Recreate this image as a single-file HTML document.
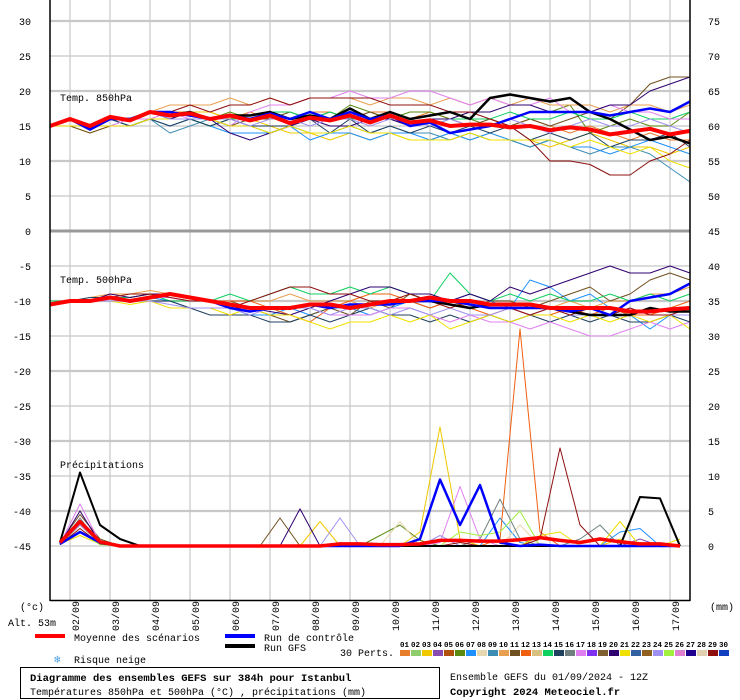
<!DOCTYPE html>
<html><head><meta charset="utf-8"><style>
html,body{margin:0;padding:0;background:#fff;}
svg{display:block;font-family:"Liberation Mono","DejaVu Sans Mono",monospace;}
</style></head><body>
<svg id="chart" width="740" height="700" viewBox="0 0 740 700" xmlns="http://www.w3.org/2000/svg">
<g id="grid"></g>
<g id="series"></g>
<g id="axes"></g>
<g id="legend"></g>
</svg>
<script>
const dates=["02/09","03/09","04/09","05/09","06/09","07/09","08/09","09/09","10/09","11/09","12/09","13/09","14/09","15/09","16/09","17/09"];
const leftTicks=[30,25,20,15,10,5,0,-5,-10,-15,-20,-25,-30,-35,-40,-45];
const rightTicks=[75,70,65,60,55,50,45,40,35,30,25,20,15,10,5,0];
const memberColors=["#e87d2c","#8fcc6b","#f0c800","#8a4bb0","#b0500a","#5a8a10","#1e90ff","#e8d8b0","#3c8cb4","#e8a050","#705020","#f06010","#d8c080","#10d060","#204060","#708080","#e080f0","#8030f0","#806030","#300070","#f0e000","#3060a0","#906020","#a090f0","#a0f040","#e080d0","#200090","#e0d0b0","#901010","#1040c0"];
// 850 hPa (12h steps, 33 values)
const mean850=[15,16,15,16.3,15.8,17,16.5,16.8,16,16.5,15.8,16.5,15.4,16.2,15.8,16.5,15.5,16.5,15.5,15.8,15,15.2,15.2,14.8,15,14.4,14.8,14.5,13.8,14.2,14.6,13.8,14.3];
const ctrl850=[15,16,14.5,16,16,17,17,16.5,16,16.5,16,16.8,16,17,16,17,16,16.5,15,15.5,14,14.5,15,16,17,17,17,17,16.5,17,17.5,17,18.5];
const gfs850=[15,16,14.5,16,16,17,16.5,17,16,16.5,16.5,17,16,16.5,16,17.5,16,17,16,16.5,17,16,19,19.5,19,18.5,19,17,16,14.5,13,13.5,12.5];
const m850_29=[15,16,15,16,16,17,17,18,17,18,18,19,18,19,19,19,19,18,18,18,17,17,16,15,13,10,10,9.5,8,8,10,11,13];
const m850_20=[15,16,15,16,16,17,16,17,16,14,13,14,15,16,15,15,16,16,15,16,16,17,17,18,18,17,17,17,18,18,20,21,22];
const m850_11=[15,15,14,15,15,16,16,16,16,15,16,16,17,16,17,16,17,16,15,16,16,15,16,15,16,15,16,17,16,18,21,22,22];
const m850_09=[15,16,15,16,15,16,14,15,16,15,15,14,15,14,14,15,14,15,14,14,13,14,13,13,12,13,12,11,12,12,11,9,7];
const m850_21=[15,15,15,15,15,16,16,16,16,15,15,14,15,14,14,15,14,14,13,13,13,14,13,13,13,13,12,13,12,11,12,10,9];
const m850_10=[15,16,15,16,16,17,18,18,18,19,18,19,18,19,19,19,18,19,19,18,19,18,19,18,19,18,18,18,17,18,18,17,18];
const m850_17=[15,16,15,15,16,16,17,16,16,15,17,18,18,19,19,20,19,19,20,20,19,18,19,18,18,19,17,17,18,17,17,16,16];
const m850_07=[15,16,15,16,15,16,15,16,15,14,14,14,15,13,14,14,13,14,14,13,14,13,14,13,12,13,12,12,11,12,13,12,11];
const m850_06=[15,16,15,16,16,17,16,17,16,17,16,17,16,17,16,18,17,16,17,17,16,16,15,16,17,17,18,14,15,16,15,15,17];
const m850_15=[15,16,15,16,15,16,15,16,15,16,15,15,15,16,14,16,14,15,14,15,14,15,14,15,13,14,13,14,12,13,13,14,12];
const m850_24=[15,16,15,16,16,17,16,16,16,16,15,16,16,15,16,16,15,16,16,15,16,15,15,16,15,14,15,16,15,15,16,15,14];
const m850_03=[15,15,14,15,15,16,16,17,17,16,16,15,14,14,13,14,13,14,13,13,14,13,14,13,13,12,13,14,13,12,12,11,12];
const m850_01=[15,16,15,16,16,17,17,17,17,16,17,16,16,17,17,16,17,17,16,17,16,16,16,15,16,15,14,15,14,13,14,13,13];
const m850_14=[15,16,15,16,16,17,16,16,15,16,16,17,17,16,17,16,16,17,16,15,16,16,16,17,16,16,17,16,16,17,16,16,17];
// 500 hPa
const mean500=[-10.5,-10,-10,-9.5,-10,-9.5,-9,-9.5,-10,-10.5,-11,-11,-11,-10.5,-10.5,-11,-10.5,-10,-10,-9.5,-10,-10,-10.5,-10.5,-10.5,-11,-11,-11,-11,-11.5,-11.5,-11.2,-11];
const ctrl500=[-10.5,-10,-10,-9.5,-10,-9.5,-9,-9.5,-10,-11,-11.5,-11,-11,-10.5,-11,-10.5,-10.5,-10.5,-10,-10,-10,-10.5,-11,-11,-11,-11,-11.5,-11,-12,-10,-9.5,-9,-7.5];
const gfs500=[-10.5,-10,-10,-9.5,-10,-9.5,-9,-9.5,-10,-10.5,-11,-11,-11,-10.5,-10.5,-11,-10.5,-10,-10,-10,-10.5,-11,-10.5,-10.5,-10.5,-11,-11.5,-12,-12,-12,-11,-11.5,-11.5];
const m500_20=[-10.5,-10,-10,-9,-9.5,-9,-9,-9.5,-10,-11,-11,-11.5,-12,-11,-10,-9,-8,-8,-9,-9,-10,-9,-10,-8,-9,-8,-7,-6,-5,-6,-6,-5,-6];
const m500_15=[-10.5,-10,-9.5,-9.5,-10,-10,-10,-11,-12,-12,-12,-13,-13,-12,-13,-12,-11,-12,-12,-13,-12,-13,-12,-13,-12,-13,-12,-13,-12,-13,-13,-12,-13];
const m500_21=[-10.5,-10,-10,-10,-10.5,-10,-11,-11,-11,-12,-11,-12,-12,-13,-14,-13,-13,-12,-13,-12,-14,-13,-12,-13,-12,-12,-13,-12,-13,-12,-13,-12,-14];
const m500_14=[-10,-10,-10,-9.5,-9.5,-9,-10,-10,-10,-9,-10,-9,-8,-9,-9,-8,-9,-8,-9,-10,-6,-9,-10,-9,-10,-9,-10,-10,-9,-10,-9,-10,-9];
const m500_07=[-10.5,-10,-10,-10,-10,-9.5,-10,-11,-11,-11,-12,-12,-11,-12,-11,-11,-12,-11,-10,-11,-10,-9,-10,-11,-7,-8,-10,-9,-11,-12,-14,-12,-12];
const m500_17=[-10.5,-10,-10,-9.5,-10,-9.5,-9.5,-10,-10,-11,-11,-11,-11,-11,-12,-12,-12,-11,-11,-12,-13,-12,-13,-13,-14,-13,-14,-15,-15,-14,-13,-14,-13];
const m500_12=[-10.5,-10,-10,-9.5,-9.5,-9,-9.5,-10,-10,-10,-10,-11,-12,-13,-11,-10,-9,-9,-10,-11,-10,-11,-12,-11,-12,-12,-11,-12,-11,-12,-12,-11,-10];
const m500_11=[-10.5,-10,-10,-9.5,-9.5,-9,-9,-9.5,-10,-10,-11,-12,-13,-12,-11,-12,-10,-11,-9,-10,-10,-11,-10,-10,-11,-10,-9,-8,-10,-9,-7,-6,-7];
const m500_29=[-10.5,-10,-10,-9.5,-9,-9,-9.5,-10,-10,-11,-10,-9,-8,-8,-9,-9,-10,-10,-9,-10,-11,-10,-11,-11,-12,-11,-12,-11,-12,-11,-12,-12,-11];
const m500_10=[-10.5,-10,-9.5,-9,-9,-8.5,-9,-9.5,-10,-10,-10,-10,-9,-10,-10,-10,-11,-10,-10,-11,-10,-11,-10,-10,-11,-11,-10,-11,-10,-10,-9,-9,-8];
const m500_24=[-10.5,-10,-10,-10,-10,-10,-10.5,-11,-11,-11,-12,-11,-11,-11,-12,-11,-11,-12,-11,-12,-11,-12,-12,-11,-12,-11,-12,-12,-12,-11,-12,-12,-12];
// Precipitation (mm), 12h steps starting 6h
const meanPr=[0.5,3.5,0.6,0,0,0,0,0,0,0,0,0,0,0,0.3,0.3,0.2,0.2,0.3,0.8,0.8,0.7,0.7,0.9,1.2,0.8,0.5,1,0.6,0.3,0.3,0];
const ctrlPr=[0.3,2,0.5,0,0,0,0,0,0,0,0,0,0,0,0,0,0,0,1,9.5,3,8.7,0.5,0,0.2,0,0,0,0,0,0,0];
const gfsPr=[0.5,10.5,3,1,0,0,0,0,0,0,0,0,0,0,0,0,0,0,0,0,0,0,0,0,0,0,0,0,0,7,6.8,0];
const pr03=[0.5,2,0.5,0,0,0,0,0,0,0,0,0,0,3.5,0,0,0,0,2,17,1,0,0,0,0,0,0,0,1,0,0,0];
const pr12=[0.3,3,0.5,0,0,0,0,0,0,0,0,0,0,0,0,0,0,0,0,0,0,0,1,31,2,0,0,0,0,0,0,0];
const pr29=[0.2,2.5,0.3,0,0,0,0,0,0,0,0,0,0,0,0,0,0,0,0,0,0.5,0,0,0,1,14,3,0,0,0,0,0];
const pr17=[0.3,6,0.5,0,0,0,0,0,0,0,0,0,0,0,0,0,0,0,0,0.5,8.5,1,0,0,0,0,0,0,0,0,0,0];
const pr16=[0.2,4,0.3,0,0,0,0,0,0,0,0,0,0,0,0,0,0,0,0,0,0,1,6.7,1,0,0,1,3,0,0,0,0];
const pr11=[0.5,4.5,1,0,0,0,0,0,0,0,0,4,0,0,0,0,0,0,0,0,0,0,0,0,0,0,0,0,0,0,0,0];
const pr20=[0.3,5,0.4,0,0,0,0,0,0,0,0,0,5.3,0,0,0,0,0,0,0,0,0,0,0,0,0,0,0,0,0,0,0];
const pr24=[0.4,3,0.5,0,0,0,0,0,0,0,0,0,0,0,4,0,0,0,0,1.5,0,0,0,0,0,0,0,0,0,0,0,0];
const pr08=[0.3,2,0.5,0,0,0,0,0,0,0,0,0,0,0,0,0,0,3.5,0,0,0,0,0,3,0,0,0,0,0,0,0,0];
const pr06=[0.2,3,0.4,0,0,0,0,0,0,0,0,0,0,0,0,0,1.5,3,0.8,0,0,0,0,0,0,0,0,0,0,0,0,0];
const pr25=[0.2,2,0.2,0,0,0,0,0,0,0,0,0,0,0,0,0,0,0,0,0,2,1.5,2,5,0,0,0,0,0,0,0,0];
const pr07=[0.6,2,0.3,0,0,0,0,0,0,0,0,0,0,0,0,0,0,0,0,0,0,0,4,0.5,0,0,0,0,2,2.5,0,0];
const pr21=[0.3,1.5,0.3,0,0,0,0,0,0,0,0,0,0,0,0,0,0,0,0,0,0,0,0,0,1.5,2,0,0,3.5,0,0,1];
const pr04=[0.3,2,0.3,0,0,0,0,0,0,0,0,0,0,0,0,0,0,0,0,0,0,0,0,0,0,0,0,0,0,1,0,0];

const NS="http://www.w3.org/2000/svg";
const X0=50,X1=690;
const xT=i=>X0+i*20;
const xP=i=>60+i*20;
const yT=t=>231-7*t;
const yP=p=>546-7*p;
function mk(tag,attrs,parent){const e=document.createElementNS(NS,tag);for(const k in attrs)e.setAttribute(k,attrs[k]);parent.appendChild(e);return e;}
const grid=document.getElementById('grid'),ser=document.getElementById('series'),axes=document.getElementById('axes'),leg=document.getElementById('legend');

for(let k=0;k<16;k++){const x=70+40*k;const l=mk('line',{x1:x,y1:0,x2:x,y2:600,stroke:'#c8c8c8','stroke-width':1.2},grid);

}
leftTicks.forEach(t=>{const y=yT(t);const thick=(t%10===0);const l=mk('line',{x1:X0,y1:y,x2:X1,y2:y,stroke:t===0?'#999':'#c8c8c8','stroke-width':t===0?3:(thick?2.2:1.2)},grid);

});

function line(arr,xf,yf,color,w,name){const pts=arr.map((v,i)=>xf(i).toFixed(1)+','+yf(v).toFixed(1)).join(' ');
const p=mk('polyline',{points:pts,fill:'none',stroke:color,'stroke-width':w,'stroke-linejoin':'round'},ser);

}

const mem850=[[m850_01,0],[m850_03,2],[m850_06,5],[m850_07,6],[m850_09,8],[m850_10,9],[m850_11,10],[m850_14,13],[m850_15,14],[m850_17,16],[m850_20,19],[m850_21,20],[m850_24,23],[m850_29,28]];
const mem500=[[m500_07,6],[m500_10,9],[m500_11,10],[m500_12,11],[m500_14,13],[m500_15,14],[m500_17,16],[m500_20,19],[m500_21,20],[m500_24,23],[m500_29,28]];
const memPr=[[pr03,2],[pr04,3],[pr06,5],[pr07,6],[pr08,7],[pr11,10],[pr12,11],[pr16,15],[pr17,16],[pr20,19],[pr21,20],[pr24,23],[pr25,24],[pr29,28]];
mem850.forEach(([a,c])=>line(a,xT,yT,memberColors[c],1,'t850-member-'+(c+1)));
mem500.forEach(([a,c])=>line(a,xT,yT,memberColors[c],1,'t500-member-'+(c+1)));
memPr.forEach(([a,c])=>line(a,xP,yP,memberColors[c],1,'precip-member-'+(c+1)));
line(gfs850,xT,yT,'#000',2.5,'t850-gfs-run');
line(ctrl850,xT,yT,'#0000ff',2.5,'t850-control-run');
line(mean850,xT,yT,'#ff0000',4,'t850-mean');
line(gfs500,xT,yT,'#000',2.5,'t500-gfs-run');
line(ctrl500,xT,yT,'#0000ff',2.5,'t500-control-run');
line(mean500,xT,yT,'#ff0000',4,'t500-mean');
line(gfsPr,xP,yP,'#000',2,'precip-gfs-run');
line(ctrlPr,xP,yP,'#0000ff',2.5,'precip-control-run');
line(meanPr,xP,yP,'#ff0000',3.5,'precip-mean');

[['left-axis',X0],['right-axis',X1]].forEach(([n,x])=>{const l=mk('line',{x1:x,y1:0,x2:x,y2:601,stroke:'#000','stroke-width':1.5},axes);

});
const bl=mk('line',{x1:X0,y1:600.5,x2:X1,y2:600.5,stroke:'#000','stroke-width':1.5},axes);


leftTicks.forEach(t=>{const e=mk('text',{x:31,y:yT(t)+4,'text-anchor':'end','font-size':10},axes);e.textContent=t;

});
rightTicks.forEach(t=>{const e=mk('text',{x:708,y:yP(t)+4,'font-size':10},axes);e.textContent=t;

});
dates.forEach((d,k)=>{const x=79+40*k;const e=mk('text',{x:0,y:0,'font-size':10,transform:`translate(${x},631) rotate(-90)`},axes);e.textContent=d;

});
function txt(s,x,y,size,name,extra){const e=mk('text',Object.assign({x:x,y:y,'font-size':size},extra||{}),leg);e.textContent=s;

return e;}
txt('Temp. 850hPa',60,101,10,'panel-label-850');
txt('Temp. 500hPa',60,283,10,'panel-label-500');
txt('Précipitations',60,468,10,'panel-label-precip');
txt('(°c)',20,610,10,'left-unit');
txt('(mm)',710,610,10,'right-unit');
txt('Alt. 53m',8,626,10,'altitude-label');
function sw(x,y,color,w,name){const l=mk('line',{x1:x,y1:y,x2:x+30,y2:y,stroke:color,'stroke-width':w},leg);

}
sw(35,636,'#ff0000',4,'legend-mean-swatch');txt('Moyenne des scénarios',74,641,10,'legend-mean');
sw(225,636,'#0000ff',4,'legend-control-swatch');txt('Run de contrôle',264,641,10,'legend-control');
sw(225,646,'#000',4,'legend-gfs-swatch');txt('Run GFS',264,651,10,'legend-gfs');
txt('❄',54,663,11,'snow-icon',{fill:'#4aa0e0'});
txt('Risque neige',74,663,10,'legend-snow');
txt('30 Perts.',340,656,10,'legend-perts');
memberColors.forEach((c,i)=>{const x=400+i*11;
const r=mk('rect',{x:x,y:650,width:10,height:6,fill:c},leg);


txt(String(i+1).padStart(2,'0'),x,647,7.5,'member-number',{'font-weight':'bold'});});
const box=mk('rect',{x:20.5,y:667.5,width:419,height:31,fill:'none',stroke:'#000','stroke-width':1},leg);


txt('Diagramme des ensembles GEFS sur 384h pour Istanbul',30,681,10.5,'chart-title',{'font-weight':'bold'});
txt('Températures 850hPa et 500hPa (°C) , précipitations (mm)',30,695,10,'chart-subtitle');
txt('Ensemble GEFS du 01/09/2024 - 12Z',450,680,10,'run-info');
txt('Copyright 2024 Meteociel.fr',450,695,10.5,'copyright',{'font-weight':'bold'});
</script>
</body></html>
